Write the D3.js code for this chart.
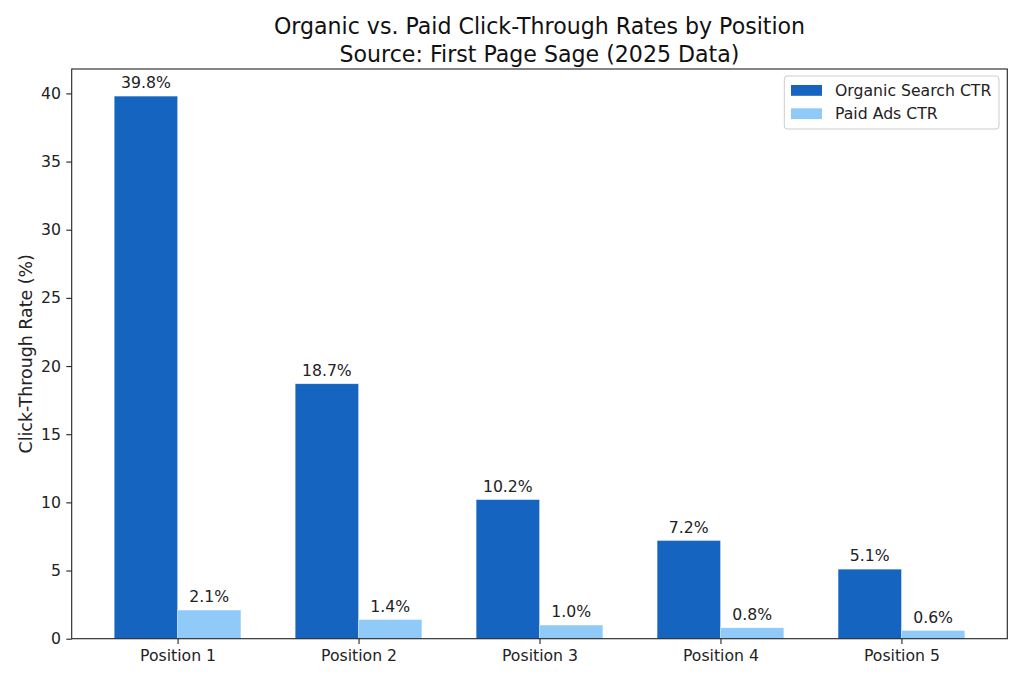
<!DOCTYPE html>
<html>
<head>
<meta charset="utf-8">
<script src="https://cdn.jsdelivr.net/npm/d3@7"></script>
<style>
  html, body { margin: 0; padding: 0; background: #fff; }
  svg { display: block; font-family: "DejaVu Sans", sans-serif; }
</style>
</head>
<body>
<svg id="chart" width="1024" height="683"></svg>
<script>
// chart data
var positions = ['Position 1', 'Position 2', 'Position 3', 'Position 4', 'Position 5'];
var organicCtr = [39.8, 18.7, 10.2, 7.2, 5.1];
var paidCtr = [2.1, 1.4, 1.0, 0.8, 0.6];
var seriesNames = ['Organic Search CTR', 'Paid Ads CTR'];
var yTicks = [0, 5, 10, 15, 20, 25, 30, 35, 40];

var colors = ['#1565C0', '#90CAF9'];
var plotLeft = 71.7, plotRight = 1007.3, plotTop = 69, plotBottom = 638.7;
var barW = 0.35;
var fs = 15.7;

var svg = d3.select('#chart');

// matplotlib style limits: 5% margins
var span = positions.length - 1 + 2 * barW;
var x = d3.scaleLinear()
  .domain([-barW - 0.05 * span, positions.length - 1 + barW + 0.05 * span])
  .range([plotLeft, plotRight]);
var y = d3.scaleLinear().domain([0, d3.max(organicCtr) * 1.05]).range([plotBottom, plotTop]);

var series = [organicCtr, paidCtr];

series.forEach(function (vals, s) {
  var off = s === 0 ? -barW : 0;
  svg.append('g').selectAll('rect')
    .data(vals)
    .enter().append('rect')
    .attr('x', function (d, i) { return x(i + off); })
    .attr('width', x(barW) - x(0))
    .attr('y', function (d) { return y(d); })
    .attr('height', function (d) { return y(0) - y(d); })
    .attr('fill', colors[s])
    .attr('stroke', '#fff')
    .attr('stroke-opacity', 0.5)
    .attr('stroke-width', 0.6);

  svg.append('g').selectAll('text')
    .data(vals)
    .enter().append('text')
    .attr('x', function (d, i) { return x(i + off + barW / 2); })
    .attr('y', function (d) { return y(d) - 8; })
    .attr('text-anchor', 'middle')
    .style('font-size', fs + 'px')
    .style('fill', '#222')
    .text(function (d) { return d.toFixed(1) + '%'; });
});

// axes
var xAxis = d3.axisBottom(x)
  .tickValues(d3.range(positions.length))
  .tickFormat(function (d) { return positions[d]; })
  .tickSize(5.4).tickPadding(5.4).tickSizeOuter(0);
var yAxis = d3.axisLeft(y)
  .tickValues(yTicks)
  .tickSize(5.4).tickPadding(5.4).tickSizeOuter(0);

var gx = svg.append('g').attr('transform', 'translate(0,' + plotBottom + ')').call(xAxis);
var gy = svg.append('g').attr('transform', 'translate(' + plotLeft + ',0)').call(yAxis);
[gx, gy].forEach(function (g) {
  g.select('.domain').remove();
  g.selectAll('line').attr('stroke', '#222').attr('stroke-width', 1.1);
  g.selectAll('text').style('font-size', fs + 'px').style('fill', '#222')
    .style('font-family', '"DejaVu Sans", sans-serif');
});
gx.selectAll('text').attr('dy', '0.71em');

// frame
svg.append('rect')
  .attr('x', plotLeft).attr('y', plotTop)
  .attr('width', plotRight - plotLeft).attr('height', plotBottom - plotTop)
  .attr('fill', 'none').attr('stroke', '#222').attr('stroke-width', 1.1);

// titles
var cx = (plotLeft + plotRight) / 2;
svg.append('text').attr('x', cx).attr('y', 33.5).attr('text-anchor', 'middle')
  .style('font-size', '22.1px').style('fill', '#111')
  .text('Organic vs. Paid Click-Through Rates by Position');
svg.append('text').attr('x', cx).attr('y', 62).attr('text-anchor', 'middle')
  .style('font-size', '22.1px').style('fill', '#111')
  .text('Source: First Page Sage (2025 Data)');

svg.append('text')
  .attr('transform', 'translate(31.5,' + ((plotTop + plotBottom) / 2) + ') rotate(-90)')
  .attr('text-anchor', 'middle')
  .style('font-size', '17.4px').style('fill', '#222')
  .text('Click-Through Rate (%)');

// legend
var lg = svg.append('g');
lg.append('rect')
  .attr('x', 784.3).attr('y', 76).attr('width', 214.7).attr('height', 53)
  .attr('rx', 3).attr('fill', '#fff').attr('fill-opacity', 0.8)
  .attr('stroke', '#ccc').attr('stroke-width', 1);
seriesNames.forEach(function (name, i) {
  var yy = 85 + i * 23.3;
  lg.append('rect').attr('x', 791).attr('y', yy)
    .attr('width', 31).attr('height', 10.8).attr('fill', colors[i]);
  lg.append('text').attr('x', 835).attr('y', yy + 10.8)
    .style('font-size', fs + 'px').style('fill', '#222')
    .text(name);
});
</script>
</body>
</html>
